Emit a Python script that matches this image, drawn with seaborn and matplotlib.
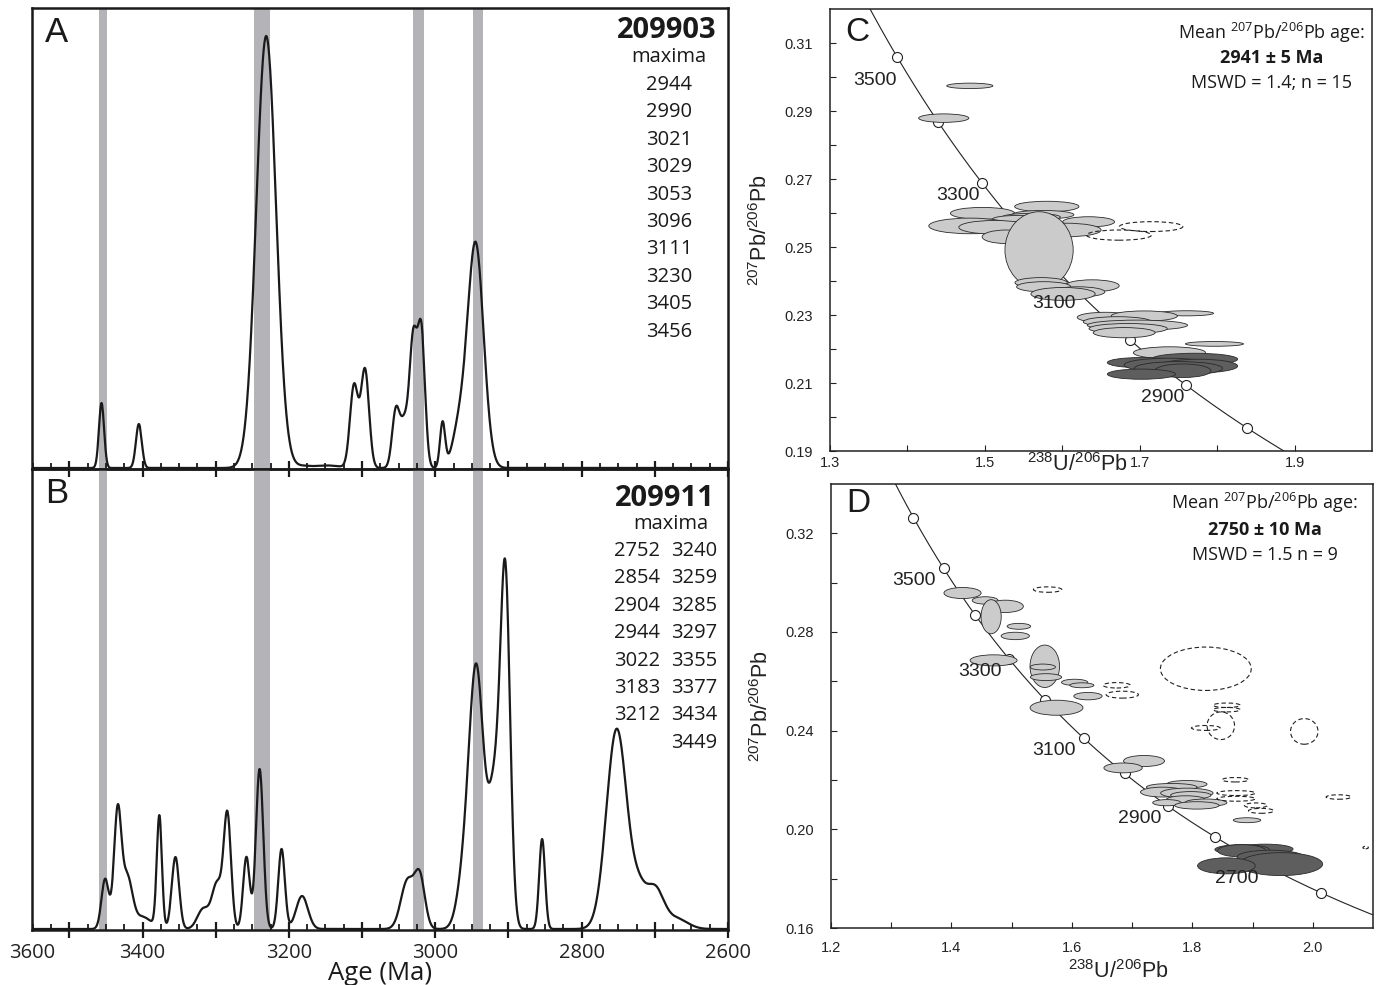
import numpy as np
import pandas as pd
import matplotlib
matplotlib.use("Agg")
import matplotlib.pyplot as plt
from matplotlib.patches import Ellipse
from matplotlib.ticker import FixedLocator, MultipleLocator, FuncFormatter, NullFormatter
import seaborn as sns

# ---------------------------------------------------------------------------
# Relative probability curves: Gaussian components (age Ma, 1 sigma Ma, height)
# ---------------------------------------------------------------------------
a_age = [3456, 3405, 3231, 3180, 3145, 3111, 3096, 3054, 3042, 3030, 3019, 2990, 2968, 2945]
a_sig = [3.5, 4.0, 13.5, 12, 15, 5.5, 5.5, 5.0, 6.0, 5.0, 5.0, 3.5, 9.0, 11.0]
a_amp = [65, 44, 432, 2, 2.5, 82, 98, 55, 45, 122, 135, 45, 35, 225]

b_age = [3451, 3434, 3421, 3400, 3377, 3355, 3317, 3298, 3284, 3258, 3240, 3210,
         3182, 3038, 3021, 2962, 2944, 2918, 2904, 2854, 2752, 2722, 2700, 2670]
b_sig = [5, 5, 7, 12, 3.5, 5, 8, 7, 5, 4.5, 5, 4.5,
         8, 9, 7, 9, 10, 9, 6.5, 4, 14, 10, 12, 15]
b_amp = [50, 115, 50, 12, 112, 72, 20, 45, 112, 72, 160, 80,
         33, 48, 50, 40, 258, 140, 325, 90, 200, 30, 40, 10]

a_sample = "209903"
a_maxima = ["2944", "2990", "3021", "3029", "3053", "3096", "3111", "3230", "3405", "3456"]
b_sample = "209911"
b_maxima_left = ["2752", "2854", "2904", "2944", "3022", "3183", "3212"]
b_maxima_right = ["3240", "3259", "3285", "3297", "3355", "3377", "3434", "3449"]

# Age bands common to both samples (Ma)
band_lo = [3448, 3226, 3016, 2935]
band_hi = [3460, 3247, 3030, 2948]

age_labels = [3400, 3200, 3000, 2800, 2600]

# ---------------------------------------------------------------------------
# Tera-Wasserburg data: ellipse centre (238U/206Pb, 207Pb/206Pb), full widths,
# kind L = concordant grain, D = youngest population, N = excluded (dashed)
# ---------------------------------------------------------------------------
c_ellipses = [
    (1.4806, 0.2974, 0.0596, 0.0016, "L"),
    (1.4469, 0.2879, 0.0648, 0.0025, "L"),
    (1.580, 0.2619, 0.083, 0.0031, "L"),
    (1.497, 0.2599, 0.083, 0.0035, "L"),
    (1.634, 0.2574, 0.067, 0.0030, "L"),
    (1.575, 0.2595, 0.080, 0.0025, "L"),
    (1.560, 0.2588, 0.075, 0.0022, "L"),
    (1.545, 0.2582, 0.070, 0.0022, "L"),
    (1.4806, 0.2562, 0.106, 0.0046, "L"),
    (1.513, 0.2558, 0.0933, 0.0040, "L"),
    (1.6048, 0.2550, 0.0907, 0.0040, "L"),
    (1.528, 0.2530, 0.063, 0.0040, "L"),
    (1.570, 0.2491, 0.0881, 0.02255, "L"),
    (1.6385, 0.2386, 0.070, 0.0035, "L"),
    (1.5726, 0.2395, 0.0674, 0.0030, "L"),
    (1.576, 0.2383, 0.070, 0.0030, "L"),
    (1.620, 0.2368, 0.070, 0.0030, "L"),
    (1.601, 0.2362, 0.083, 0.0038, "L"),
    (1.7603, 0.2305, 0.070, 0.0015, "L"),
    (1.6556, 0.2293, 0.0726, 0.0030, "L"),
    (1.7059, 0.2297, 0.0855, 0.0030, "L"),
    (1.6711, 0.2280, 0.088, 0.0030, "L"),
    (1.697, 0.2270, 0.1296, 0.0030, "L"),
    (1.685, 0.2260, 0.101, 0.0030, "L"),
    (1.6799, 0.2248, 0.080, 0.0030, "L"),
    (1.7965, 0.2215, 0.075, 0.0014, "L"),
    (1.7385, 0.2189, 0.0933, 0.0035, "L"),
    (1.7707, 0.2170, 0.1115, 0.0035, "D"),
    (1.7022, 0.2160, 0.088, 0.0030, "D"),
    (1.737, 0.2153, 0.114, 0.0040, "D"),
    (1.776, 0.2150, 0.101, 0.0040, "D"),
    (1.750, 0.2143, 0.114, 0.0040, "D"),
    (1.7557, 0.2136, 0.0726, 0.0040, "D"),
    (1.7022, 0.2126, 0.088, 0.0030, "D"),
    (1.7147, 0.2560, 0.0819, 0.0029, "N"),
    (1.6732, 0.2535, 0.084, 0.0030, "N"),
]

d_ellipses = [
    (1.4184, 0.2958, 0.0617, 0.0045, "L"),
    (1.456, 0.2928, 0.043, 0.0030, "L"),
    (1.4894, 0.2904, 0.060, 0.0050, "L"),
    (1.4659, 0.2862, 0.0335, 0.0138, "L"),
    (1.512, 0.2823, 0.039, 0.0024, "L"),
    (1.506, 0.2784, 0.047, 0.0030, "L"),
    (1.470, 0.2685, 0.078, 0.0045, "L"),
    (1.555, 0.2661, 0.049, 0.0172, "L"),
    (1.5517, 0.2658, 0.042, 0.0024, "L"),
    (1.557, 0.2617, 0.052, 0.0028, "L"),
    (1.6046, 0.2596, 0.0436, 0.0025, "L"),
    (1.6166, 0.2584, 0.040, 0.0020, "L"),
    (1.6267, 0.2540, 0.047, 0.0030, "L"),
    (1.5745, 0.2493, 0.0878, 0.0061, "L"),
    (1.7198, 0.2277, 0.068, 0.0045, "L"),
    (1.685, 0.2249, 0.0637, 0.0040, "L"),
    (1.7909, 0.2183, 0.067, 0.0030, "L"),
    (1.7657, 0.2171, 0.084, 0.0030, "L"),
    (1.7508, 0.2151, 0.0737, 0.0040, "L"),
    (1.7909, 0.2147, 0.087, 0.0040, "L"),
    (1.7975, 0.2138, 0.067, 0.0030, "L"),
    (1.789, 0.2121, 0.064, 0.0030, "L"),
    (1.7577, 0.2108, 0.047, 0.0025, "L"),
    (1.8224, 0.2108, 0.070, 0.0030, "L"),
    (1.8076, 0.2097, 0.0737, 0.0030, "L"),
    (1.8908, 0.2037, 0.0456, 0.0020, "L"),
    (1.921, 0.1920, 0.0925, 0.0040, "D"),
    (1.8827, 0.1918, 0.0905, 0.0040, "D"),
    (1.882, 0.1913, 0.080, 0.0050, "D"),
    (1.9296, 0.1888, 0.1106, 0.0055, "D"),
    (1.947, 0.1859, 0.1387, 0.0093, "D"),
    (1.8566, 0.1852, 0.0958, 0.0065, "D"),
    (1.5597, 0.2972, 0.047, 0.0022, "N"),
    (1.8224, 0.2651, 0.1508, 0.0176, "N"),
    (1.6744, 0.2584, 0.045, 0.0022, "N"),
    (1.6837, 0.2546, 0.0536, 0.0028, "N"),
    (1.857, 0.2503, 0.045, 0.0018, "N"),
    (1.857, 0.2485, 0.045, 0.0018, "N"),
    (1.8473, 0.2420, 0.0456, 0.0112, "N"),
    (1.8224, 0.2411, 0.0476, 0.0020, "N"),
    (1.9859, 0.2397, 0.0456, 0.0104, "N"),
    (1.8714, 0.2201, 0.044, 0.0018, "N"),
    (1.8727, 0.2147, 0.064, 0.0020, "N"),
    (1.8727, 0.2124, 0.064, 0.0020, "N"),
    (1.9054, 0.2097, 0.038, 0.0020, "N"),
    (1.9142, 0.2075, 0.042, 0.0020, "N"),
    (2.0429, 0.2131, 0.0415, 0.0018, "N"),
    (2.0878, 0.1926, 0.009, 0.0010, "N"),
]

c_marks = [2800, 2900, 3000, 3100, 3200, 3300, 3400, 3500]
c_labelled = [3500, 3300, 3100, 2900]
d_marks = [2600, 2700, 2800, 2900, 3000, 3100, 3200, 3300, 3400, 3500, 3600]
d_labelled = [3500, 3300, 3100, 2900, 2700]

c_stats = ["2941 \u00b1 5 Ma", "MSWD = 1.4; n = 15"]
d_stats = ["2750 \u00b1 10 Ma", "MSWD = 1.5 n = 9"]

# decay constants (1/yr) and present-day 238U/235U
L238 = 1.55125e-10
L235 = 9.8485e-10
U_RATIO = 137.88

# ---------------------------------------------------------------------------
sns.set_theme(style="ticks")
plt.rcParams.update({
    "font.family": ["Open Sans", "DejaVu Sans"],
    "mathtext.default": "regular",
})
SANS = ["Liberation Sans", "DejaVu Sans"]
HUMAN = ["Open Sans", "DejaVu Sans"]
INK = "#1a1a1a"
BAND = "#b4b4b8"
FILL = {"L": "#cbcbcb", "D": "#5e5e5e"}

W, H = 1383, 985
fig = plt.figure(figsize=(W / 100, H / 100), dpi=100)


def px_axes(left, top, right, bottom):
    return fig.add_axes([left / W, 1 - bottom / H, (right - left) / W, (bottom - top) / H])


axA = px_axes(32, 8, 728, 469)
axB = px_axes(32, 469, 728, 930)
axC = px_axes(830, 9, 1372, 451)
axD = px_axes(831, 484, 1373, 928)

ages = np.arange(2600.0, 3552.0, 0.5)


def density(t, mu, sd, amp):
    out = np.zeros_like(t)
    for m, s, a in zip(mu, sd, amp):
        out += a * np.exp(-0.5 * ((t - m) / s) ** 2)
    return out


def age_panel(ax, mu, sd, amp, letter, show_labels):
    ax.set_facecolor("none")
    for lo, hi in zip(band_lo, band_hi):
        ax.axvspan(lo, hi, color=BAND, lw=0, zorder=0)
    df = pd.DataFrame({"age": ages, "p": density(ages, mu, sd, amp)})
    sns.lineplot(data=df, x="age", y="p", ax=ax, color=INK, lw=1.6,
                 estimator=None, zorder=3)
    ax.set_xlim(3551, 2600)
    ax.set_ylim(-1, 460)
    ax.set_yticks([])
    ax.set_xlabel("")
    ax.set_ylabel("")
    ax.xaxis.set_major_locator(FixedLocator(np.arange(2600, 3501, 100)))
    ax.xaxis.set_minor_locator(MultipleLocator(25))
    ax.xaxis.set_minor_formatter(NullFormatter())
    if show_labels:
        ax.xaxis.set_major_formatter(FuncFormatter(
            lambda v, p: f"{v:.0f}" if int(round(v)) in age_labels else ""))
    else:
        ax.xaxis.set_major_formatter(NullFormatter())
    ax.tick_params(axis="x", which="major", direction="inout", length=11.5,
                   width=1.6, color=INK, pad=3.6, labelsize=14.5, labelcolor="#222")
    ax.tick_params(axis="x", which="minor", direction="in", length=4.4,
                   width=1.3, color=INK)
    for s in ax.spines.values():
        s.set_linewidth(1.8)
        s.set_color(INK)
    ax.text(0.019, 0.946, letter, transform=ax.transAxes, fontsize=25,
            family=SANS, ha="left", va="center", color=INK)


age_panel(axA, a_age, a_sig, a_amp, "A", False)
age_panel(axB, b_age, b_sig, b_amp, "B", True)

# sample names and peak maxima
axA.text(0.984, 0.952, a_sample, transform=axA.transAxes, ha="right", va="center",
         fontsize=21, fontweight="bold", color=INK)
axA.text(0.915, 0.894, "maxima", transform=axA.transAxes, ha="center", va="center",
         fontsize=14.5, color=INK)
for i, m in enumerate(a_maxima):
    axA.text(0.915, 1 - (77 + 27.4 * i) / 461, m, transform=axA.transAxes,
             ha="center", va="center", fontsize=14.5, color=INK)

axB.text(0.981, 0.937, b_sample, transform=axB.transAxes, ha="right", va="center",
         fontsize=21, fontweight="bold", color=INK)
axB.text(0.918, 0.881, "maxima", transform=axB.transAxes, ha="center", va="center",
         fontsize=14.5, color=INK)
for i, m in enumerate(b_maxima_left):
    axB.text((660 - 32) / 696, 1 - (82 + 27.4 * i) / 461, m, transform=axB.transAxes,
             ha="right", va="center", fontsize=14.5, color=INK)
for i, m in enumerate(b_maxima_right):
    axB.text((717 - 32) / 696, 1 - (82 + 27.4 * i) / 461, m, transform=axB.transAxes,
             ha="right", va="center", fontsize=14.5, color=INK)

axB.text(0.0, -13 / 461, "3600", transform=axB.transAxes, ha="center", va="top",
         fontsize=14.5, color="#222")
axB.set_xlabel("Age (Ma)", fontsize=18.5, color=INK)
axB.xaxis.set_label_coords(0.5, -31 / 461)
axB.xaxis.label.set_va("top")


# ---------------------------------------------------------------------------
def concordia(t_ma):
    t = np.asarray(t_ma, dtype=float) * 1e6
    e8 = np.exp(L238 * t) - 1
    e5 = np.exp(L235 * t) - 1
    return 1 / e8, e5 / e8 / U_RATIO


def tw_panel(ax, ellipses, marks, labelled, letter, stats, xlim, ylim,
             xmaj, xmin, ymaj, ymin, lab_off, xlabel_xy, stat_x, stat_y):
    tt = np.linspace(2300, 3800, 700)
    cx, cy = concordia(tt)
    sns.lineplot(x=cx, y=cy, sort=False, estimator=None, ax=ax, color="#222",
                 lw=0.8, zorder=2)
    mx, my = concordia(marks)
    sns.scatterplot(x=mx, y=my, ax=ax, s=52, facecolor="white", edgecolor="#222",
                    linewidth=0.8, zorder=2.5, legend=False)
    for x0, y0, w, h, kind in ellipses:
        if kind == "N":
            e = Ellipse((x0, y0), w, h, facecolor="none", edgecolor="#222",
                        lw=0.8, ls=(0, (4, 2.5)), zorder=3)
        else:
            e = Ellipse((x0, y0), w, h, facecolor=FILL[kind], edgecolor="#2a2a2a",
                        lw=0.6, zorder=3)
        ax.add_patch(e)
    for age in labelled:
        lx, ly = concordia([age])
        off = lab_off.get(age, lab_off["default"])
        ax.annotate(str(age), (lx[0], ly[0]), xytext=off, textcoords="offset points",
                    ha="center", va="center", fontsize=14, family=SANS,
                    color="#222", zorder=5)
    ax.set_xlim(*xlim)
    ax.set_ylim(*ylim)
    ax.xaxis.set_major_locator(FixedLocator(xmaj))
    ax.xaxis.set_minor_locator(FixedLocator(xmin))
    ax.yaxis.set_major_locator(FixedLocator(ymaj))
    ax.yaxis.set_minor_locator(FixedLocator(ymin))
    ax.xaxis.set_major_formatter(FuncFormatter(lambda v, p: f"{v:.1f}"))
    ax.yaxis.set_major_formatter(FuncFormatter(lambda v, p: f"{v:.2f}"))
    ax.tick_params(which="both", direction="in", length=4, width=0.8, color="#222",
                   labelsize=10.5, labelcolor="#222")
    for lab in ax.get_xticklabels() + ax.get_yticklabels():
        lab.set_family(SANS)
    ax.tick_params(axis="y", pad=12)
    for s in ax.spines.values():
        s.set_linewidth(1.1)
        s.set_color("#222")
    ax.set_xlabel(r"$^{238}$U/$^{206}$Pb", fontsize=15.5, family=SANS, color="#222")
    ax.set_ylabel(r"$^{207}$Pb/$^{206}$Pb", fontsize=15.5, family=SANS, color="#222")
    ax.xaxis.set_label_coords(*xlabel_xy)
    ax.xaxis.label.set_va("center")
    ax.yaxis.label.set_va("center")
    ax.yaxis.set_label_coords(-0.129, 0.5)
    ax.text(0.05, stat_y[0], letter, transform=ax.transAxes, ha="center", va="center",
            fontsize=24, family=SANS, color=INK)
    ax.text(stat_x[0], stat_y[0], r"Mean $^{207}$Pb/$^{206}$Pb age:",
            transform=ax.transAxes, ha="right", va="center", fontsize=13,
            family=HUMAN, color=INK)
    ax.text(stat_x[1], stat_y[1], stats[0], transform=ax.transAxes, ha="center",
            va="center", fontsize=13, fontweight="bold", family=HUMAN, color=INK)
    ax.text(stat_x[1], stat_y[2], stats[1], transform=ax.transAxes, ha="center",
            va="center", fontsize=13, family=HUMAN, color=INK)


tw_panel(axC, c_ellipses, c_marks, c_labelled, "C", c_stats,
         (1.3, 2.0), (0.19, 0.32),
         [1.3, 1.5, 1.7, 1.9], [1.4, 1.6, 1.8],
         np.round(np.arange(0.19, 0.3101, 0.02), 2), np.round(np.arange(0.20, 0.3101, 0.02), 2),
         {"default": (-17, -9), 3500: (-16, -17)},
         (0.456, -0.03), (0.987, 0.815), (0.946, 0.889, 0.833))

tw_panel(axD, d_ellipses, d_marks, d_labelled, "D", d_stats,
         (1.2, 2.1), (0.16, 0.34),
         [1.2, 1.4, 1.6, 1.8, 2.0], [1.3, 1.5, 1.7, 1.9],
         [0.16, 0.20, 0.24, 0.28, 0.32], [0.18, 0.22, 0.26, 0.30],
         {"default": (-21, -9)},
         (0.53, -0.099), (0.972, 0.80), (0.957, 0.896, 0.840))
axD.tick_params(axis="x", pad=9)

fig.savefig("out.png", dpi=100)
